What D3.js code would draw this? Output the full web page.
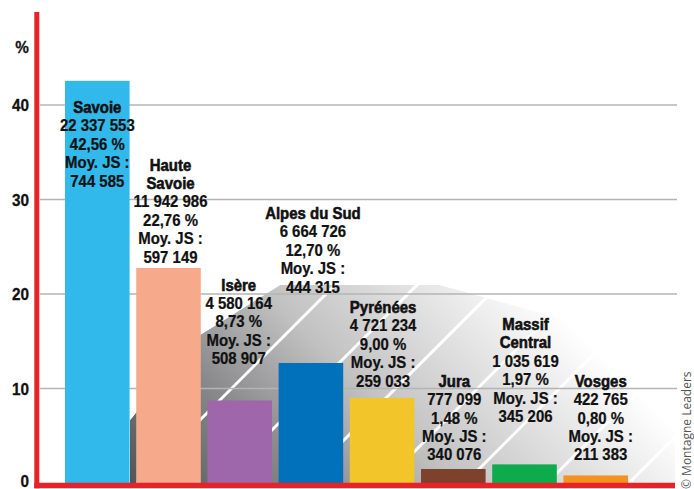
<!DOCTYPE html>
<html lang="fr">
  <head>
    <meta charset="UTF-8" />
    <title>Journées skieurs par massif</title>
    <script src="https://d3js.org/d3.v7.min.js"></script>
    <style>
      body {
        margin: 0;
        background: #fff;
      }
      svg text {
        font-family: "Liberation Sans", Arial, sans-serif;
        fill: #111;
      }
      .lbl {
        font-size: 17px;
        font-weight: bold;
        stroke: #111;
        stroke-width: 0.25px;
      }
      .name {
        stroke-width: 0.6px;
      }
      .tick-lbl {
        font-size: 17px;
        font-weight: bold;
        stroke: #111;
        stroke-width: 0.3px;
      }
      .credit {
        font-family: "Open Sans", "DejaVu Sans", sans-serif !important;
        font-size: 12px;
        fill: #555 !important;
      }
    </style>
  </head>
  <body>
    <svg id="chart" width="694" height="489"></svg>

    <script>
      // data
      const regions = ["Savoie", "Haute Savoie", "Isère", "Alpes du Sud", "Pyrénées", "Jura", "Massif Central", "Vosges"];
      const nameLines = [["Savoie"], ["Haute", "Savoie"], ["Isère"], ["Alpes du Sud"], ["Pyrénées"], ["Jura"], ["Massif", "Central"], ["Vosges"]];
      const skierDays = [22337553, 11942986, 4580164, 6664726, 4721234, 777099, 1035619, 422765];
      const shares = [42.56, 22.76, 8.73, 12.7, 9.0, 1.48, 1.97, 0.8];
      const avgPerResort = [744585, 597149, 508907, 444315, 259033, 340076, 345206, 211383];
      const yTicks = [0, 10, 20, 30, 40];
      const colors = ["#31b9ec", "#f7a98c", "#9e67ab", "#0071ba", "#f2c52a", "#7e412b", "#0dab4c", "#f39221"];

      // where each label block starts (in % units) and small horizontal nudges
      const labelTop = [39.15, 33.05, 20.35, 27.94, 17.99, 10.19, 16.19, 10.19];
      const labelDx = [0, 2, -1, 2, 1, 1, 1, 5];

      const fr = d3.formatLocale({ decimal: ",", thousands: " ", grouping: [3], currency: ["", " €"] });
      const fmtInt = fr.format(",d");
      const fmtPct = fr.format(".2f");

      const svg = d3.select("#chart");

      const x = d3
        .scaleBand()
        .domain(regions)
        .range([61.7, 631.3])
        .paddingInner(0.093)
        .paddingOuter(0.0465);

      const y = d3.scaleLinear().domain([0, 40]).range([483, 105]);

      // diagonal shadow behind the bars
      const defs = svg.append("defs");
      const grad = defs
        .append("linearGradient")
        .attr("id", "shade")
        .attr("gradientUnits", "userSpaceOnUse")
        .attr("x1", 130).attr("y1", 483)
        .attr("x2", 430).attr("y2", 183);
      grad.append("stop").attr("offset", 0).attr("stop-color", "#535456");
      grad.append("stop").attr("offset", 0.3).attr("stop-color", "#8a8a8c");
      grad.append("stop").attr("offset", 0.55).attr("stop-color", "#c2c2c3");
      grad.append("stop").attr("offset", 0.8).attr("stop-color", "#e4e4e4");
      grad.append("stop").attr("offset", 1).attr("stop-color", "#ffffff");

      const shadowPts = [[130, 483], [130, 420], [200, 335], [280, 285], [440, 285], [560, 318], [675, 395], [675, 483]];
      defs.append("clipPath").attr("id", "shadowClip")
        .append("polygon").attr("points", shadowPts.join(" "));

      const shadow = svg.append("g").attr("clip-path", "url(#shadowClip)");
      shadow.append("polygon").attr("points", shadowPts.join(" ")).attr("fill", "url(#shade)");
      d3.range(620, 1200, 82).forEach((c) => {
        shadow.append("line")
          .attr("x1", c - 483).attr("y1", 483)
          .attr("x2", c - 200).attr("y2", 200)
          .attr("stroke", "#fff")
          .attr("stroke-width", 3);
      });

      // gridlines
      svg.append("g")
        .selectAll("line")
        .data(yTicks.filter((d) => d > 0))
        .join("line")
        .attr("x1", 40).attr("x2", 677)
        .attr("y1", (d) => y(d)).attr("y2", (d) => y(d))
        .attr("stroke", "#b4b4b4")
        .attr("stroke-width", 1.5);

      // bars
      svg.append("g")
        .selectAll("rect")
        .data(regions)
        .join("rect")
        .attr("x", (d) => x(d))
        .attr("y", (d, i) => y(shares[i]))
        .attr("width", x.bandwidth())
        .attr("height", (d, i) => y(0) - y(shares[i]))
        .attr("fill", (d, i) => colors[i]);

      // red axes
      svg.append("line")
        .attr("x1", 36.8).attr("x2", 36.8)
        .attr("y1", 12).attr("y2", 488.3)
        .attr("stroke", "#e52329").attr("stroke-width", 5);
      svg.append("line")
        .attr("x1", 34.3).attr("x2", 675)
        .attr("y1", 485.5).attr("y2", 485.5)
        .attr("stroke", "#e52329").attr("stroke-width", 5.5);

      // y tick labels (condensed look via horizontal scale)
      svg.append("g")
        .selectAll("text")
        .data(yTicks)
        .join("text")
        .attr("class", "tick-lbl")
        .attr("text-anchor", "end")
        .attr("transform", (d) => `translate(29,${d === 0 ? 487 : y(d) + 6}) scale(0.9,1)`)
        .text((d) => d);

      svg.append("text")
        .attr("class", "tick-lbl")
        .attr("text-anchor", "middle")
        .attr("transform", "translate(22,53) scale(0.9,1)")
        .text("%");

      // labels
      const lineH = 18.4;
      regions.forEach((r, i) => {
        const lines = nameLines[i]
          .map((t) => ({ t, name: true }))
          .concat([
            { t: fmtInt(skierDays[i]) },
            { t: fmtPct(shares[i]) + " %" },
            { t: "Moy. JS :" },
            { t: fmtInt(avgPerResort[i]) },
          ]);
        const cx = x(r) + x.bandwidth() / 2 + labelDx[i];
        svg.append("g")
          .selectAll("text")
          .data(lines)
          .join("text")
          .attr("class", (d) => (d.name ? "lbl name" : "lbl"))
          .attr("text-anchor", "middle")
          .attr("transform", (d, k) => `translate(${cx},${y(labelTop[i]) + k * lineH}) scale(0.88,1)`)
          .text((d) => d.t);
      });

      // credit
      svg.append("text")
        .attr("class", "credit")
        .attr("transform", "translate(691,489) rotate(-90)")
        .text("© Montagne Leaders");
    </script>
  </body>
</html>
